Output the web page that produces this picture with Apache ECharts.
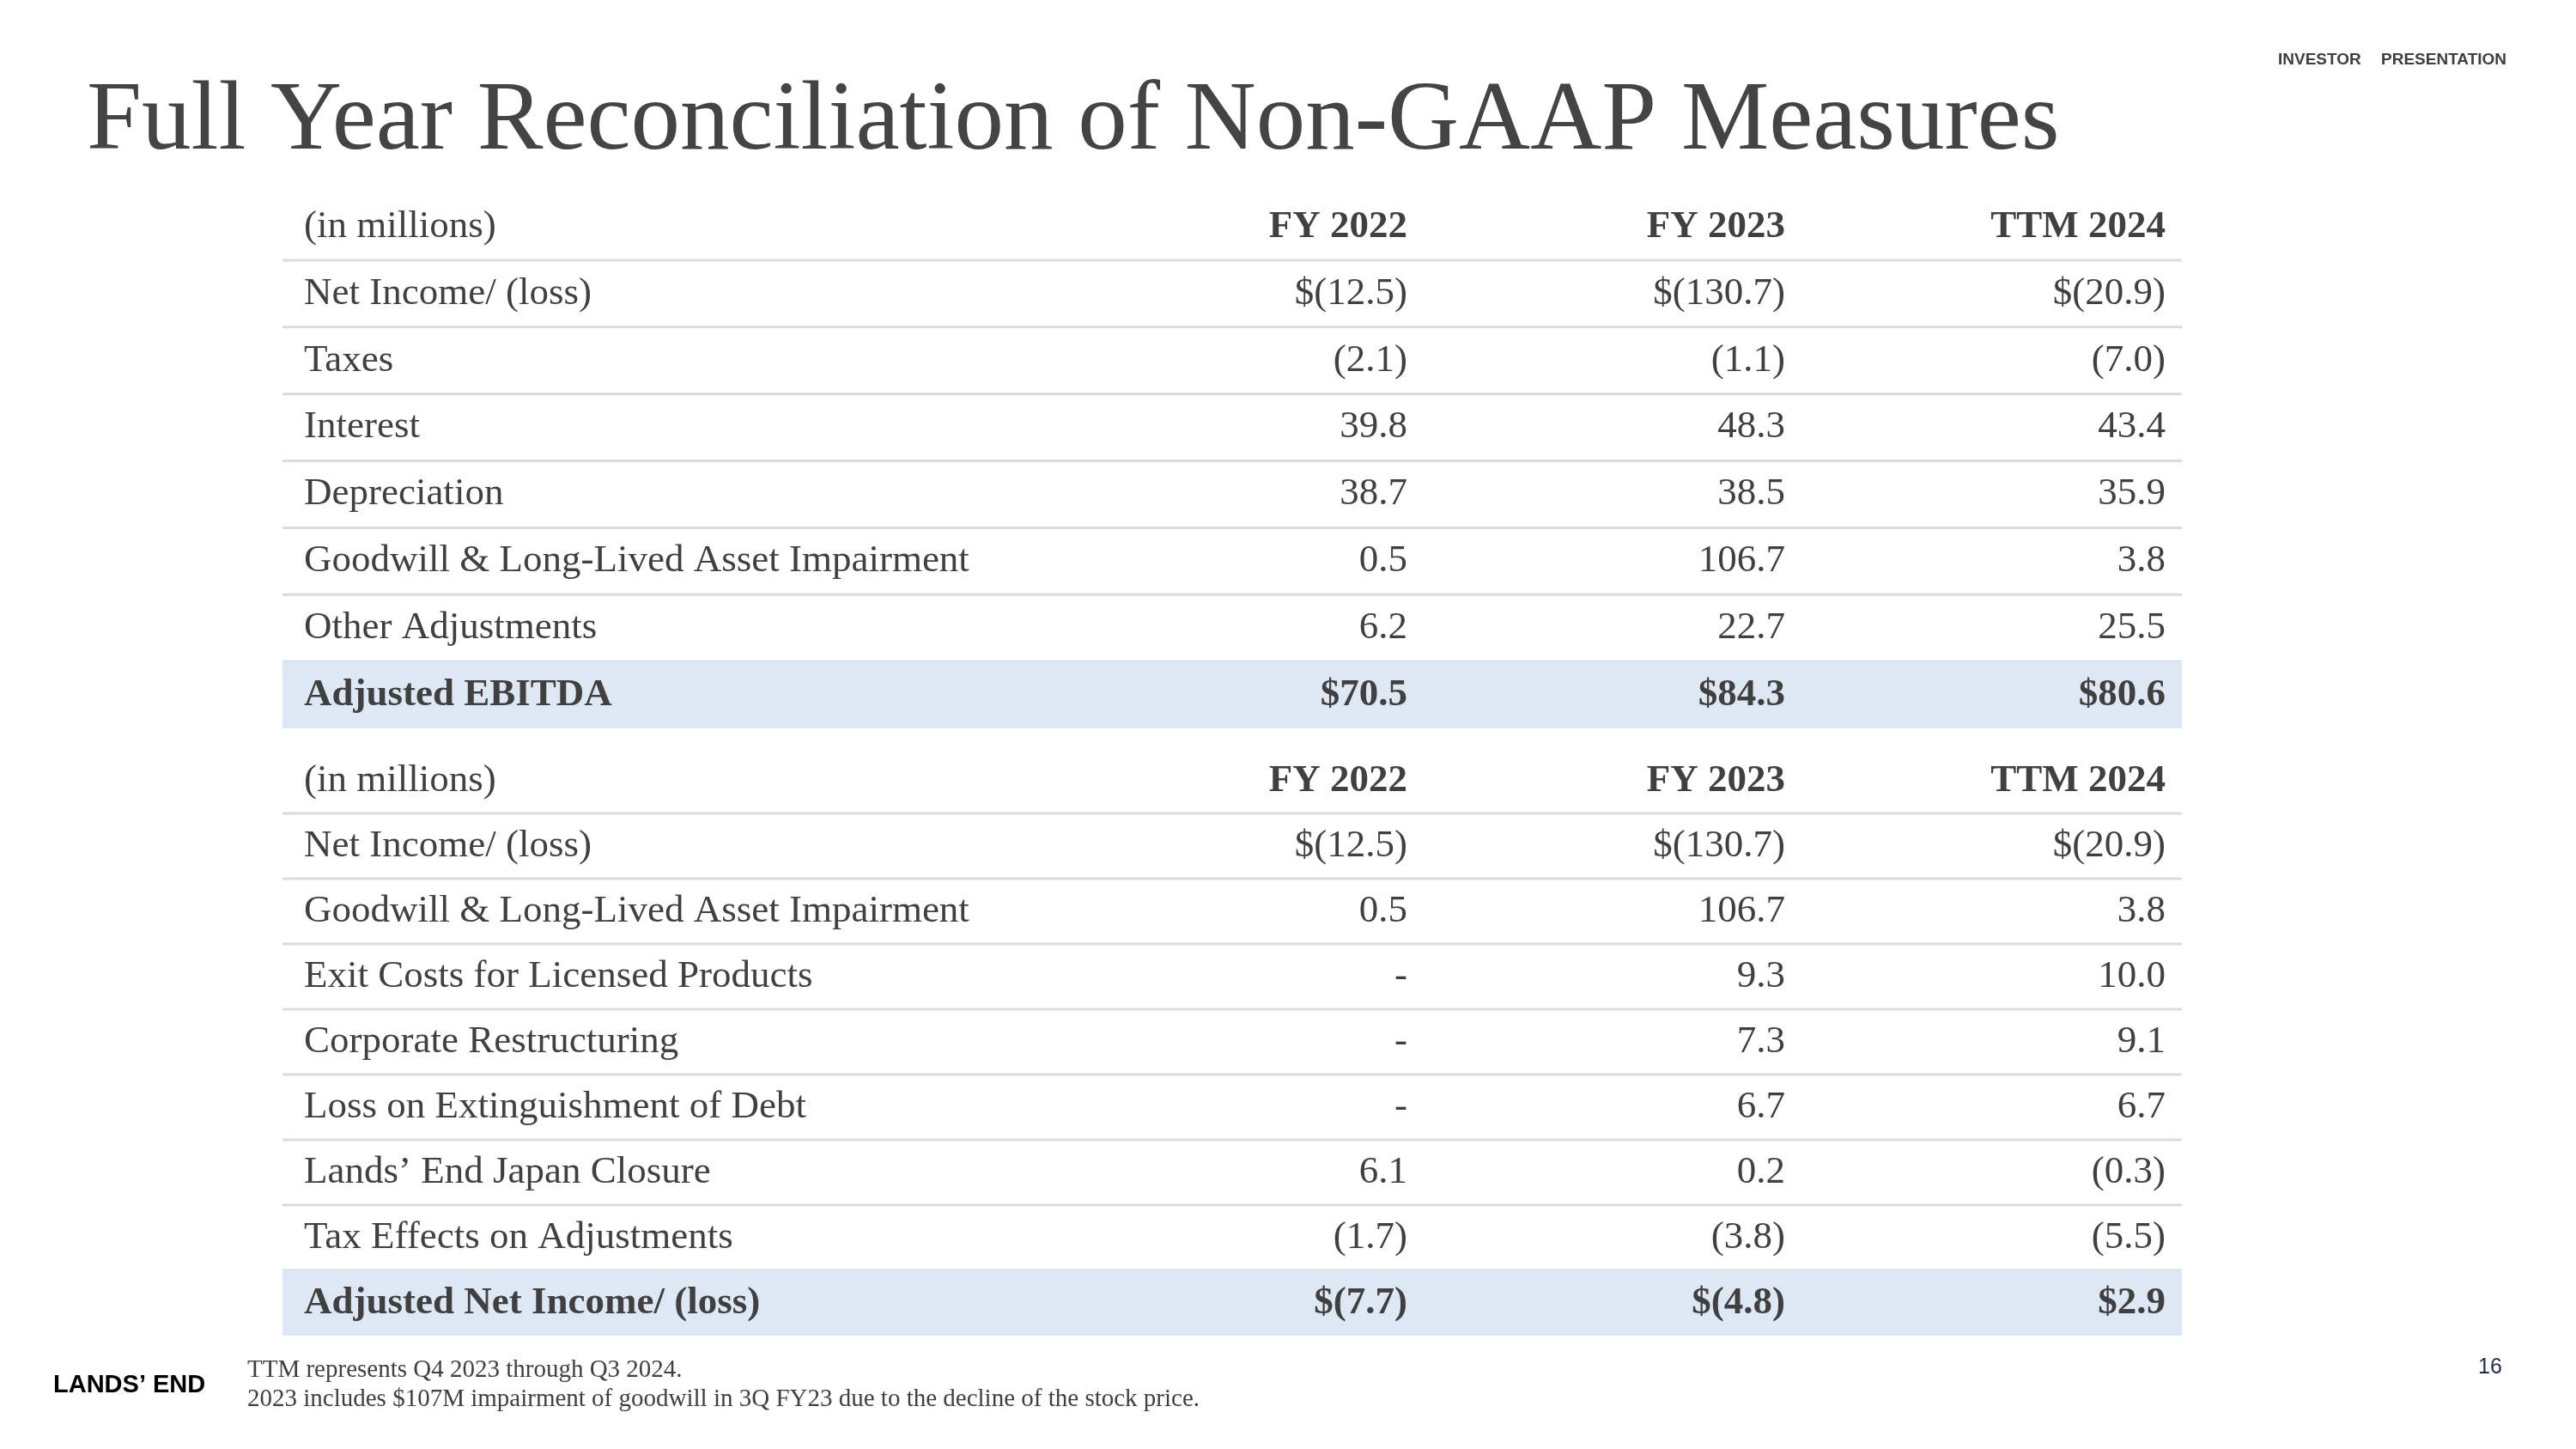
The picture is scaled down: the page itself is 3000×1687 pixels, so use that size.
<!DOCTYPE html>
<html>
<head>
<meta charset="utf-8">
<script src="https://cdn.jsdelivr.net/npm/echarts@6/dist/echarts.min.js"></script>
<style>html,body{margin:0;padding:0;background:#fff}#c{width:3000px;height:1687px}</style>
</head>
<body>
<div id="c"></div>
<script>
// ---- data ----
const headerLabel = '(in millions)';
const periods = ['FY 2022', 'FY 2023', 'TTM 2024'];

const ebitdaRows = ['Net Income/ (loss)', 'Taxes', 'Interest', 'Depreciation',
  'Goodwill & Long-Lived Asset Impairment', 'Other Adjustments', 'Adjusted EBITDA'];
const ebitdaFY2022 = [-12.5, -2.1, 39.8, 38.7, 0.5, 6.2, 70.5];
const ebitdaFY2023 = [-130.7, -1.1, 48.3, 38.5, 106.7, 22.7, 84.3];
const ebitdaTTM2024 = [-20.9, -7.0, 43.4, 35.9, 3.8, 25.5, 80.6];

const niRows = ['Net Income/ (loss)', 'Goodwill & Long-Lived Asset Impairment',
  'Exit Costs for Licensed Products', 'Corporate Restructuring',
  'Loss on Extinguishment of Debt', 'Lands’ End Japan Closure',
  'Tax Effects on Adjustments', 'Adjusted Net Income/ (loss)'];
const niFY2022 = [-12.5, 0.5, null, null, null, 6.1, -1.7, -7.7];
const niFY2023 = [-130.7, 106.7, 9.3, 7.3, 6.7, 0.2, -3.8, -4.8];
const niTTM2024 = [-20.9, 3.8, 10.0, 9.1, 6.7, -0.3, -5.5, 2.9];

const footnotes = ['TTM represents Q4 2023 through Q3 2024.',
  '2023 includes $107M impairment of goodwill in 3Q FY23 due to the decline of the stock price.'];

// ---- styles ----
const SERIF = '"Liberation Serif", "Times New Roman", serif';
const SANS = '"Liberation Sans", Arial, sans-serif';
const TXT = '#404040';
const LINE = '#d8dbe0';
const BAND = '#dde8f4';
const FS = 45;
// column anchors as fractions of the table width (layout only)
const labelX = 0.0113;
const colX = [0.5922, 0.7911, 0.9914];

function fmt(v, dollar) {
  if (v === null || v === undefined) return '-';
  const s = Math.abs(v).toFixed(1);
  const body = v < 0 ? '(' + s + ')' : s;
  return (dollar ? '$' : '') + body;
}

function buildTable(rows, cols) {
  const cats = [headerLabel].concat(rows);
  const data = cats.map((c, i) => ({ value: [0, i] }));
  const last = cats.length - 1;
  function render(params, api) {
    const i = api.value(1);
    const cs = params.coordSys;
    const yc = api.coord([0, i])[1];
    const h = api.size([0, 1])[1];
    const top = yc - h / 2, bottom = yc + h / 2;
    const isHeader = i === 0, isTotal = i === last;
    const children = [];
    if (isTotal) {
      children.push({ type: 'rect', shape: { x: cs.x, y: top, width: cs.width, height: h }, style: { fill: BAND } });
    } else {
      children.push({ type: 'line', shape: { x1: cs.x, y1: bottom, x2: cs.x + cs.width, y2: bottom }, style: { stroke: LINE, lineWidth: 3 } });
    }
    children.push({
      type: 'text',
      style: { x: api.coord([labelX, i])[0], y: yc, text: cats[i], fill: TXT, fontFamily: SERIF, fontSize: FS,
        fontWeight: isTotal ? 'bold' : 'normal', align: 'left', verticalAlign: 'middle' }
    });
    for (let k = 0; k < 3; k++) {
      const t = isHeader ? periods[k] : fmt(cols[k][i - 1], i === 1 || isTotal);
      children.push({
        type: 'text',
        style: { x: api.coord([colX[k], i])[0], y: yc, text: t, fill: TXT, fontFamily: SERIF, fontSize: FS,
          fontWeight: (isHeader || isTotal) ? 'bold' : 'normal', align: 'right', verticalAlign: 'middle' }
      });
    }
    return { type: 'group', children };
  }
  return { cats, data, render };
}

const t1 = buildTable(ebitdaRows, [ebitdaFY2022, ebitdaFY2023, ebitdaTTM2024]);
const t2 = buildTable(niRows, [niFY2022, niFY2023, niTTM2024]);

const chart = echarts.init(document.getElementById('c'), null, { renderer: 'canvas' });
chart.setOption({
  backgroundColor: '#ffffff',
  animation: false,
  grid: [
    { left: 329, top: 225, width: 2212, height: 623 },
    { left: 329, top: 871, width: 2212, height: 684 }
  ],
  xAxis: [
    { type: 'value', gridIndex: 0, min: 0, max: 1, show: false },
    { type: 'value', gridIndex: 1, min: 0, max: 1, show: false }
  ],
  yAxis: [
    { type: 'category', gridIndex: 0, data: t1.cats, inverse: true, show: false },
    { type: 'category', gridIndex: 1, data: t2.cats, inverse: true, show: false }
  ],
  series: [
    { type: 'custom', xAxisIndex: 0, yAxisIndex: 0, data: t1.data, renderItem: t1.render, silent: true },
    { type: 'custom', xAxisIndex: 1, yAxisIndex: 1, data: t2.data, renderItem: t2.render, silent: true }
  ],
  graphic: [
    { type: 'text', left: 101, top: 85, style: { text: 'Full Year Reconciliation of Non-GAAP Measures', fill: '#444444', fontFamily: SERIF, fontSize: 115 } },
    { type: 'text', left: 2653, top: 60, style: { text: 'INVESTOR', fill: '#404040', fontFamily: SANS, fontWeight: 'bold', fontSize: 19 } },
    { type: 'text', left: 2773, top: 60, style: { text: 'PRESENTATION', fill: '#404040', fontFamily: SANS, fontWeight: 'bold', fontSize: 19 } },
    { type: 'text', left: 62, top: 1598, style: { text: 'LANDS’ END', fill: '#000000', fontFamily: SANS, fontWeight: 'bold', fontSize: 29 } },
    { type: 'text', left: 288, top: 1581, style: { text: footnotes[0], fill: TXT, fontFamily: SERIF, fontSize: 29 } },
    { type: 'text', left: 288, top: 1615, style: { text: footnotes[1], fill: TXT, fontFamily: SERIF, fontSize: 29 } },
    { type: 'text', left: 2886, top: 1580, style: { text: '16', fill: '#1f2a44', fontFamily: SANS, fontSize: 25 } }
  ]
});
</script>
</body>
</html>
